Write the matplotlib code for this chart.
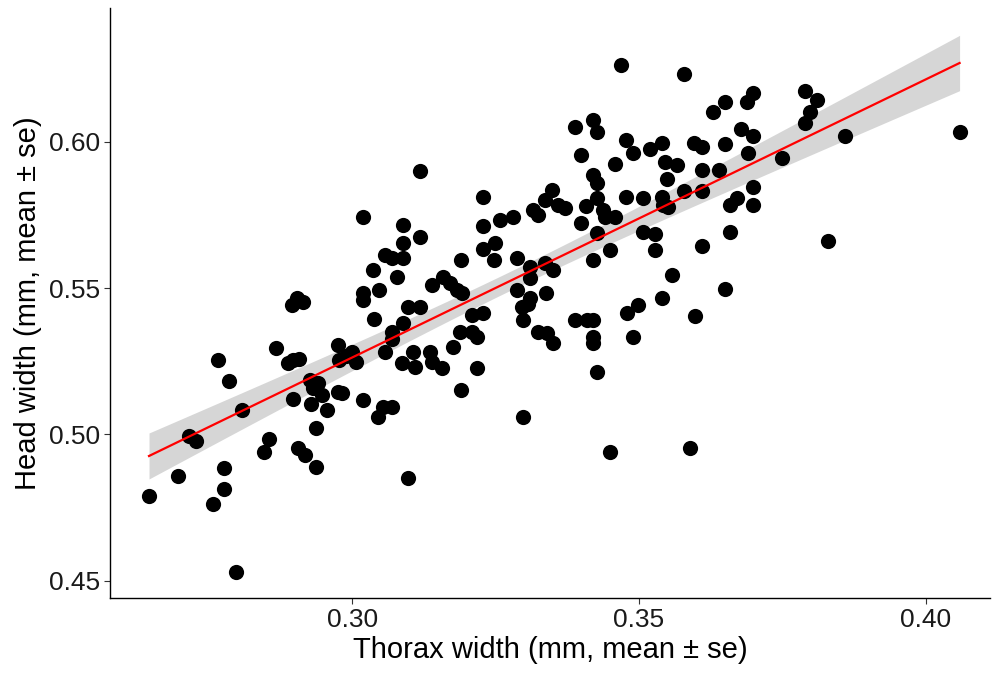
import numpy as np
import matplotlib
matplotlib.use("Agg")
import matplotlib.pyplot as plt

plt.rcParams['font.family'] = ['Liberation Sans', 'DejaVu Sans']

# thorax width (mm)
thorax = [
    0.2646, 0.2697, 0.2716, 0.2728, 0.2767, 0.2786, 0.2808, 0.2777, 0.2777, 0.2758,
    0.2798, 0.2847, 0.2855, 0.2868, 0.2888, 0.2897, 0.2908, 0.2895, 0.2904, 0.2915,
    0.2897, 0.2906, 0.2918, 0.2927, 0.2932, 0.2941, 0.2929, 0.2948, 0.2956, 0.2976,
    0.2937, 0.2937, 0.2976, 0.2977, 0.2990, 0.3000, 0.3007, 0.2983, 0.3019, 0.3054,
    0.3070, 0.3045, 0.3098, 0.3019, 0.3037, 0.3047, 0.3019, 0.3019, 0.3038, 0.3057,
    0.3070, 0.3089, 0.3089, 0.3118, 0.3089, 0.3118, 0.3078, 0.3098, 0.3118, 0.3089,
    0.3070, 0.3070, 0.3057, 0.3106, 0.3136, 0.3139, 0.3087, 0.3110, 0.3157, 0.3139,
    0.3159, 0.3171, 0.3183, 0.3192, 0.3188, 0.3209, 0.3218, 0.3176, 0.3209, 0.3228,
    0.3218, 0.3190, 0.3298, 0.3228, 0.3228, 0.3258, 0.3280, 0.3315, 0.3324, 0.3228,
    0.3249, 0.3247, 0.3190, 0.3287, 0.3310, 0.3310, 0.3287, 0.3310, 0.3307, 0.3296,
    0.3298, 0.3324, 0.3340, 0.3350, 0.3336, 0.3350, 0.3338, 0.3389, 0.3420, 0.3427,
    0.3477, 0.3490, 0.3519, 0.3540, 0.3545, 0.3566, 0.3399, 0.3458, 0.3420, 0.3427,
    0.3549, 0.3348, 0.3336, 0.3359, 0.3371, 0.3408, 0.3427, 0.3437, 0.3441, 0.3458,
    0.3477, 0.3507, 0.3540, 0.3542, 0.3551, 0.3399, 0.3427, 0.3420, 0.3449, 0.3507,
    0.3528, 0.3528, 0.3557, 0.3389, 0.3409, 0.3420, 0.3420, 0.3420, 0.3479, 0.3498,
    0.3540, 0.3490, 0.3427, 0.3449, 0.3469, 0.3578, 0.3789, 0.3810, 0.3798, 0.3789,
    0.3699, 0.3688, 0.3650, 0.3629, 0.3678, 0.3699, 0.3690, 0.3749, 0.3859, 0.3596,
    0.3610, 0.3650, 0.3610, 0.3639, 0.3578, 0.3610, 0.3699, 0.3659, 0.3671, 0.3699,
    0.3659, 0.3610, 0.3829, 0.3650, 0.3598, 0.3589, 0.4059,
]

# head width (mm), same order
head = [
    0.4790, 0.4858, 0.4995, 0.4977, 0.5254, 0.5182, 0.5083, 0.4885, 0.4813, 0.4762,
    0.4530, 0.4940, 0.4984, 0.5295, 0.5244, 0.5254, 0.5258, 0.5442, 0.5466, 0.5452,
    0.5121, 0.4954, 0.4930, 0.5186, 0.5159, 0.5176, 0.5104, 0.5135, 0.5083, 0.5145,
    0.5022, 0.4889, 0.5305, 0.5254, 0.5268, 0.5282, 0.5247, 0.5141, 0.5118, 0.5094,
    0.5094, 0.5059, 0.4851, 0.5743, 0.5562, 0.5493, 0.5483, 0.5459, 0.5394, 0.5613,
    0.5603, 0.5603, 0.5715, 0.5674, 0.5654, 0.5900, 0.5538, 0.5435, 0.5435, 0.5381,
    0.5350, 0.5326, 0.5282, 0.5282, 0.5282, 0.5247, 0.5244, 0.5230, 0.5227, 0.5510,
    0.5538, 0.5517, 0.5493, 0.5483, 0.5350, 0.5350, 0.5333, 0.5299, 0.5408, 0.5415,
    0.5227, 0.5152, 0.5059, 0.5811, 0.5712, 0.5732, 0.5743, 0.5767, 0.5750, 0.5633,
    0.5654, 0.5596, 0.5596, 0.5603, 0.5572, 0.5534, 0.5493, 0.5466, 0.5446, 0.5435,
    0.5391, 0.5350, 0.5346, 0.5312, 0.5586, 0.5562, 0.5483, 0.6050, 0.6074, 0.6033,
    0.6006, 0.5962, 0.5975, 0.5996, 0.5931, 0.5920, 0.5955, 0.5924, 0.5886, 0.5859,
    0.5873, 0.5835, 0.5801, 0.5784, 0.5774, 0.5780, 0.5808, 0.5767, 0.5743, 0.5743,
    0.5811, 0.5808, 0.5811, 0.5784, 0.5777, 0.5722, 0.5688, 0.5596, 0.5630, 0.5691,
    0.5685, 0.5630, 0.5545, 0.5391, 0.5391, 0.5391, 0.5333, 0.5312, 0.5415, 0.5442,
    0.5466, 0.5333, 0.5213, 0.4940, 0.6262, 0.6231, 0.6173, 0.6143, 0.6101, 0.6064,
    0.6166, 0.6136, 0.6136, 0.6101, 0.6043, 0.6019, 0.5962, 0.5944, 0.6019, 0.5996,
    0.5982, 0.5992, 0.5903, 0.5903, 0.5832, 0.5832, 0.5845, 0.5784, 0.5808, 0.5784,
    0.5691, 0.5644, 0.5661, 0.5497, 0.5405, 0.4954, 0.6033,
]

x_ticks = [0.30, 0.35, 0.40]
y_ticks = [0.45, 0.50, 0.55, 0.60]

x = np.array(thorax)
y = np.array(head)

# linear fit with 95% confidence band (like geom_smooth(method = "lm"))
n = len(x)
slope, intercept = np.polyfit(x, y, 1)
resid = y - (intercept + slope * x)
s = np.sqrt(np.sum(resid ** 2) / (n - 2))
xx = np.linspace(x.min(), x.max(), 80)
yy = intercept + slope * xx
se = s * np.sqrt(1 / n + (xx - x.mean()) ** 2 / np.sum((x - x.mean()) ** 2))
t = 1.974
lo, hi = yy - t * se, yy + t * se

fig = plt.figure(figsize=(9.92, 6.74), dpi=100)
ax = fig.add_axes([110 / 992, 76 / 674, 880 / 992, 590 / 674])

ax.fill_between(xx, lo, hi, color='#999999', alpha=0.4, linewidth=0, zorder=1)
ax.scatter(x, y, s=120, color='black', linewidths=0, zorder=2)
ax.plot(xx, yy, color='red', linewidth=1.6, zorder=3)

ax.set_xlim(0.2578, 0.4112)
ax.set_ylim(0.4441, 0.6457)
ax.set_xticks(x_ticks)
ax.set_xticklabels([f"{v:.2f}" for v in x_ticks])
ax.set_yticks(y_ticks)
ax.set_yticklabels([f"{v:.2f}" for v in y_ticks])

for side in ['top', 'right']:
    ax.spines[side].set_visible(False)
for side in ['left', 'bottom']:
    ax.spines[side].set_color('black')
    ax.spines[side].set_linewidth(1.0)

ax.tick_params(axis='both', direction='out', length=4, width=0.8,
               color='#333333', labelsize=19, labelcolor='#1a1a1a', pad=3)

ax.set_xlabel('Thorax width (mm, mean ± se)', fontsize=21, labelpad=3)
ax.set_ylabel('Head width (mm, mean ± se)', fontsize=21, labelpad=5)

fig.savefig('out.png', dpi=100)
